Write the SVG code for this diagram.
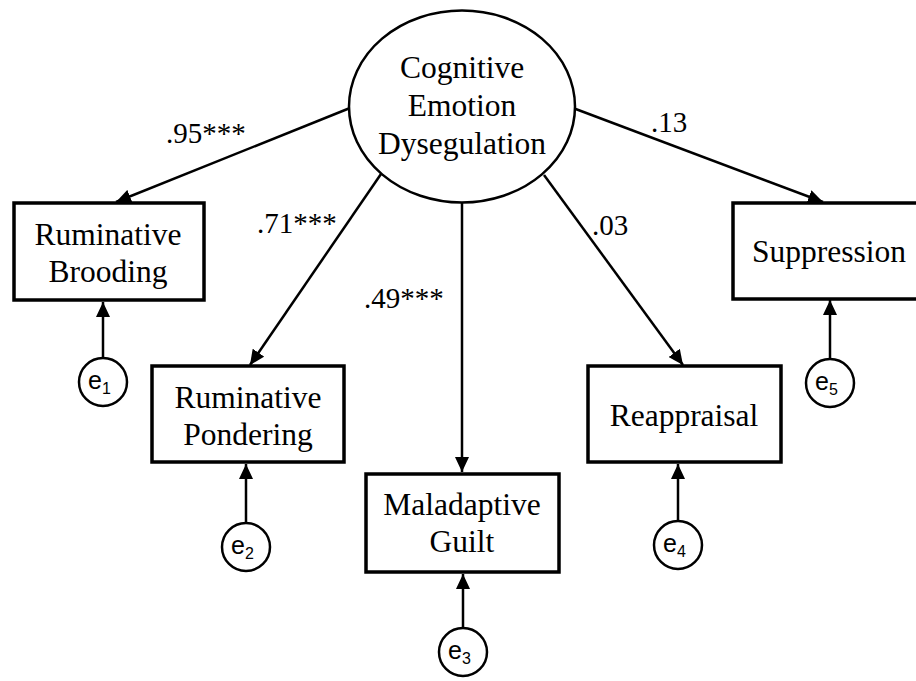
<svg xmlns="http://www.w3.org/2000/svg" width="916" height="681" viewBox="0 0 916 681">
<style>
.box{fill:#fff;stroke:#000;stroke-width:3.5}
.lat{fill:#fff;stroke:#000;stroke-width:2.5}
.err{fill:#fff;stroke:#000;stroke-width:2.5}
.t{font-size:31.5px;fill:#000;text-anchor:middle}
.lbl{font-size:29px;fill:#000}
.e{font-size:25px;fill:#000}
.sub{font-size:16px}
.c line{stroke:#000;stroke-width:2.5;marker-end:url(#ah)}
</style>
<defs>
<marker id="ah" markerUnits="userSpaceOnUse" markerWidth="16" markerHeight="14" refX="15" refY="7" orient="auto">
<path d="M0,0 L15,7 L0,14 z" fill="#000"/>
</marker>
</defs>
<rect width="916" height="681" fill="#fff"/>
<g id="connectors" class="c">
<line x1="350" y1="108" x2="116" y2="202"/>
<line x1="381" y1="174" x2="250" y2="365"/>
<line x1="462" y1="203" x2="462" y2="472"/>
<line x1="544" y1="175" x2="683" y2="365"/>
<line x1="573" y1="108" x2="823" y2="202"/>
<line x1="103" y1="358" x2="103" y2="302"/>
<line x1="246" y1="523" x2="246" y2="464"/>
<line x1="463" y1="628" x2="463" y2="574"/>
<line x1="678" y1="521" x2="678" y2="464"/>
<line x1="830" y1="359" x2="830" y2="300"/>
</g>
<g font-family="Liberation Serif, Times New Roman, serif">
<g id="labels">
<text class="lbl" x="166" y="143">.95***</text>
<text class="lbl" x="257" y="233">.71***</text>
<text class="lbl" x="364" y="308">.49***</text>
<text class="lbl" x="592" y="235">.03</text>
<text class="lbl" x="651" y="132">.13</text>
</g>
<g id="latent">
<ellipse class="lat" cx="462" cy="106.5" rx="113" ry="96"/>
<text class="t" x="462" y="78">Cognitive</text>
<text class="t" x="462" y="116">Emotion</text>
<text class="t" x="462" y="154">Dysegulation</text>
</g>
<g id="brooding">
<rect class="box" x="14" y="203" width="190" height="97"/>
<text class="t" x="108" y="245">Ruminative</text>
<text class="t" x="108" y="282">Brooding</text>
</g>
<g id="pondering">
<rect class="box" x="152" y="366" width="192" height="96"/>
<text class="t" x="248" y="408">Ruminative</text>
<text class="t" x="248" y="445">Pondering</text>
</g>
<g id="guilt">
<rect class="box" x="366" y="474" width="193" height="98"/>
<text class="t" x="462" y="515">Maladaptive</text>
<text class="t" x="462" y="552">Guilt</text>
</g>
<g id="reappraisal">
<rect class="box" x="588" y="366" width="193" height="96"/>
<text class="t" x="684" y="426">Reappraisal</text>
</g>
<g id="suppression">
<rect class="box" x="733" y="203" width="200" height="96"/>
<text class="t" x="829" y="262">Suppression</text>
</g>
</g>
<g font-family="Liberation Sans, Arial, sans-serif">
<g id="e1">
<circle class="err" cx="103" cy="382" r="24"/>
<text class="e" x="88" y="389">e<tspan class="sub" dy="5">1</tspan></text>
</g>
<g id="e2">
<circle class="err" cx="246" cy="547" r="24"/>
<text class="e" x="231" y="554">e<tspan class="sub" dy="5">2</tspan></text>
</g>
<g id="e3">
<circle class="err" cx="463" cy="652" r="24"/>
<text class="e" x="448" y="659">e<tspan class="sub" dy="5">3</tspan></text>
</g>
<g id="e4">
<circle class="err" cx="678" cy="545" r="24"/>
<text class="e" x="663" y="552">e<tspan class="sub" dy="5">4</tspan></text>
</g>
<g id="e5">
<circle class="err" cx="830" cy="383" r="24"/>
<text class="e" x="815" y="390">e<tspan class="sub" dy="5">5</tspan></text>
</g>
</g>
</svg>
